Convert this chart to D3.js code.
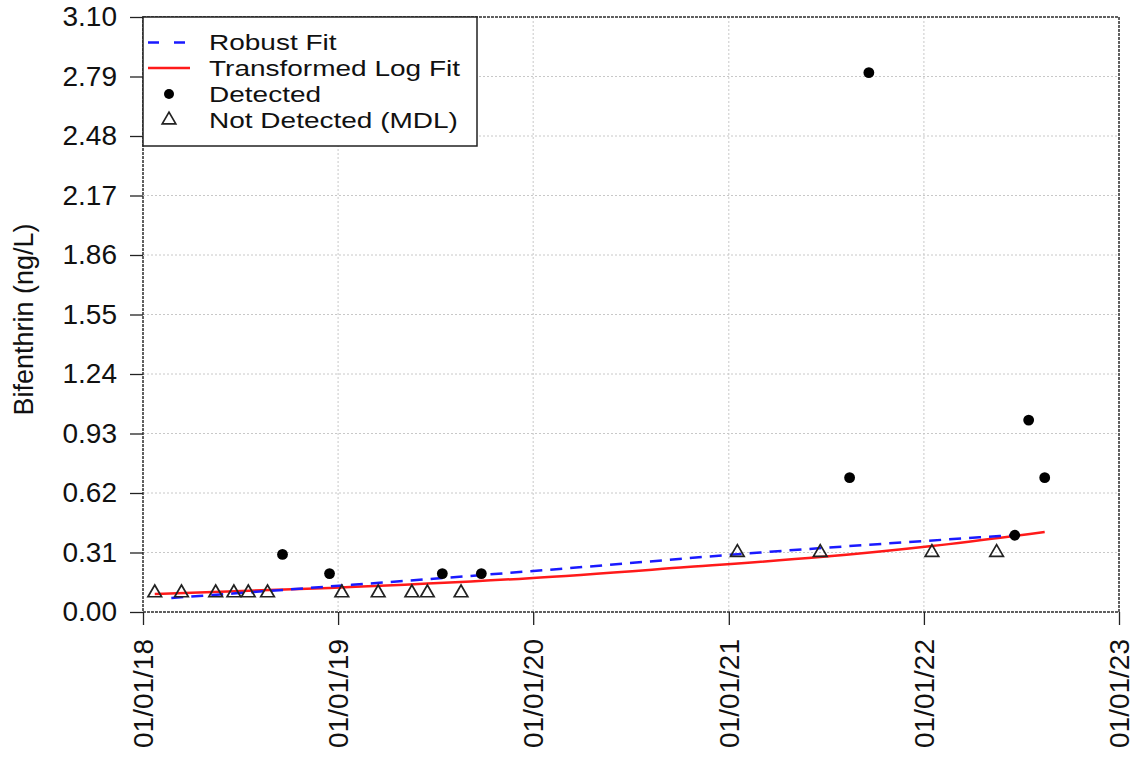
<!DOCTYPE html>
<html>
<head>
<meta charset="utf-8">
<script src="https://cdn.jsdelivr.net/npm/d3@7"></script>
<style>
  body { margin: 0; background: #fff; }
  text { font-family: "Liberation Sans", Arial, sans-serif; fill: #111; }
</style>
</head>
<body>
<svg id="chart" width="1136" height="757"></svg>
<script>
// values
const yTicks = [0.00, 0.31, 0.62, 0.93, 1.24, 1.55, 1.86, 2.17, 2.48, 2.79, 3.10];
const xTickDates = ["2018-01-01", "2019-01-01", "2020-01-01", "2021-01-01", "2022-01-01", "2023-01-01"];
const xTickLabels = ["01/01/18", "01/01/19", "01/01/20", "01/01/21", "01/01/22", "01/01/23"];

const detectedDates = ["2018-09-19", "2018-12-16", "2019-07-15", "2019-09-26", "2021-08-15", "2021-09-20", "2022-06-20", "2022-07-16", "2022-08-15"];
const detectedValues = [0.30, 0.20, 0.20, 0.20, 0.70, 2.81, 0.40, 1.00, 0.70];

const ndDates = ["2018-01-23", "2018-03-14", "2018-05-17", "2018-06-20", "2018-07-17", "2018-08-22", "2019-01-08", "2019-03-17", "2019-05-19", "2019-06-17", "2019-08-19", "2021-01-17", "2021-06-21", "2022-01-16", "2022-05-17"];
const ndValues = [0.10, 0.10, 0.10, 0.10, 0.10, 0.10, 0.10, 0.10, 0.10, 0.10, 0.10, 0.31, 0.31, 0.31, 0.31];

const robustDates = ["2018-02-23", "2019-12-25", "2021-03-01", "2022-06-15"];
const robustValues = [0.073, 0.212, 0.31, 0.40];

const logFitDates = ["2018-01-23", "2018-12-16", "2019-12-25", "2020-10-15", "2021-06-21", "2022-01-16", "2022-08-15"];
const logFitValues = [0.094, 0.125, 0.176, 0.234, 0.286, 0.344, 0.417];

const parse = d3.timeParse("%Y-%m-%d");

const svg = d3.select("#chart");
const margin = {left: 143, right: 17, top: 17, bottom: 145};
const W = 1136, H = 757;

const x = d3.scaleTime()
  .domain([parse("2018-01-01"), parse("2023-01-01")])
  .range([margin.left, W - margin.right]);
const y = d3.scaleLinear()
  .domain([0, 3.10])
  .range([H - margin.bottom, margin.top]);

// grid
const grid = svg.append("g");
grid.selectAll(".hg").data(yTicks).enter().append("line")
  .attr("x1", margin.left).attr("x2", W - margin.right)
  .attr("y1", d => y(d)).attr("y2", d => y(d))
  .attr("stroke", "#c8c8c8").attr("stroke-dasharray", "2,2");
grid.selectAll(".vg").data(xTickDates).enter().append("line")
  .attr("x1", d => x(parse(d))).attr("x2", d => x(parse(d)))
  .attr("y1", margin.top).attr("y2", H - margin.bottom)
  .attr("stroke", "#c8c8c8").attr("stroke-dasharray", "2,2");

// frame
svg.append("rect")
  .attr("x", margin.left).attr("y", margin.top)
  .attr("width", W - margin.left - margin.right)
  .attr("height", H - margin.top - margin.bottom)
  .attr("fill", "none").attr("stroke", "#333").attr("stroke-width", 1.5)
  .attr("stroke-dasharray", "3,1");

// y axis
const yAxis = svg.append("g")
  .attr("transform", `translate(${margin.left},0)`)
  .call(d3.axisLeft(y).tickValues(yTicks).tickFormat(d3.format(".2f")).tickSize(13).tickPadding(13));
yAxis.select(".domain").remove();
yAxis.selectAll("line").attr("stroke", "#222").attr("stroke-width", 1.3);
yAxis.selectAll("text").style("font-size", "28px").attr("fill", "#111");

// x axis
const xAxis = svg.append("g")
  .attr("transform", `translate(0,${H - margin.bottom})`)
  .call(d3.axisBottom(x).tickValues(xTickDates.map(parse))
    .tickFormat((d, i) => xTickLabels[i]).tickSize(13));
xAxis.select(".domain").remove();
xAxis.selectAll("line").attr("stroke", "#222").attr("stroke-width", 1.3);
xAxis.selectAll("text")
  .style("font-size", "28px")
  .attr("fill", "#111")
  .attr("text-anchor", "end")
  .attr("transform", "rotate(-90)")
  .attr("x", -27).attr("y", 0).attr("dy", "0.35em");

// y label
svg.append("text")
  .attr("transform", `translate(33,${(margin.top + H - margin.bottom) / 2 + 5}) rotate(-90)`)
  .attr("text-anchor", "middle")
  .style("font-size", "27px")
  .text("Bifenthrin (ng/L)");

// fit lines
const line = d3.line().x(d => x(d[0])).y(d => y(d[1]));
const robust = robustDates.map((d, i) => [parse(d), robustValues[i]]);
const logFit = logFitDates.map((d, i) => [parse(d), logFitValues[i]]);

svg.append("path").datum(logFit)
  .attr("d", line.curve(d3.curveMonotoneX))
  .attr("fill", "none").attr("stroke", "#ff1a1a").attr("stroke-width", 2.5);
svg.append("path").datum(robust)
  .attr("d", line.curve(d3.curveMonotoneX))
  .attr("fill", "none").attr("stroke", "#1a1aff").attr("stroke-width", 2.5)
  .attr("stroke-dasharray", "12,8");

// points
const tri = d3.symbol().type(d3.symbolTriangle).size(80);
svg.selectAll(".nd").data(ndDates).enter().append("path")
  .attr("d", tri)
  .attr("transform", (d, i) => `translate(${x(parse(d))},${y(ndValues[i])})`)
  .attr("fill", "none").attr("stroke", "#222").attr("stroke-width", 1.7);
svg.selectAll(".det").data(detectedDates).enter().append("circle")
  .attr("cx", d => x(parse(d)))
  .attr("cy", (d, i) => y(detectedValues[i]))
  .attr("r", 5.4).attr("fill", "#000");

// legend
const lg = svg.append("g");
lg.append("rect").attr("x", margin.left).attr("y", margin.top)
  .attr("width", 334).attr("height", 129)
  .attr("fill", "#fff").attr("stroke", "#222").attr("stroke-width", 1.5);
const items = ["Robust Fit", "Transformed Log Fit", "Detected", "Not Detected (MDL)"];
const rowY = [42.5, 68, 94, 120];
// reference legend text is wide but short, so squeeze vertically
lg.selectAll(".lt").data(items).enter().append("text")
  .attr("transform", (d, i) => `translate(209,${rowY[i]}) scale(1.245,1)`)
  .attr("dy", "0.35em")
  .style("font-size", "22.5px").text(d => d);
lg.append("line").attr("x1", 148).attr("x2", 187).attr("y1", rowY[0]).attr("y2", rowY[0])
  .attr("stroke", "#1a1aff").attr("stroke-width", 2.5).attr("stroke-dasharray", "11,15");
lg.append("line").attr("x1", 148).attr("x2", 190).attr("y1", rowY[1]).attr("y2", rowY[1])
  .attr("stroke", "#ff1a1a").attr("stroke-width", 2.5);
lg.append("circle").attr("cx", 169).attr("cy", rowY[2]).attr("r", 5).attr("fill", "#000");
lg.append("path").attr("d", tri)
  .attr("transform", `translate(169,${rowY[3]})`)
  .attr("fill", "none").attr("stroke", "#222").attr("stroke-width", 1.7);
</script>
</body>
</html>
